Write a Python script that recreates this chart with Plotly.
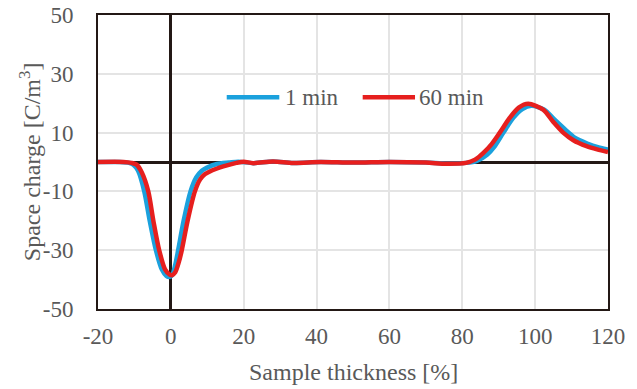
import plotly.graph_objects as go

# 1 min series
x_1min = [-20, -14, -11.5, -10.3, -9, -7.3, -5.8, -4.1, -2.5, -1.2, -0.7, 0.3, 1.2, 2.0, 3.5, 5.4, 7.0, 8.5, 9.8, 12.6, 16, 18.5, 22.6, 28, 33.6, 41, 50, 60, 70, 76, 81, 84, 86.8, 89, 91.3, 94, 96.5, 99, 102.5, 105.5, 108.3, 111, 114.5, 117, 120]
y_1min = [0, 0, -0.3, -0.9, -3, -10, -20, -30, -36.5, -38.8, -39.1, -38.6, -35, -30, -20, -10, -5.2, -3.0, -2.0, -0.7, -0.2, 0.1, -0.4, 0.2, -0.3, 0, -0.2, 0, -0.2, -0.5, -0.3, 0.4, 2.5, 5.5, 10, 15, 18, 19.1, 17.8, 14.2, 11, 8.2, 6.2, 5.1, 4.2]

# 60 min series
x_60min = [-20, -13, -10.8, -9.4, -8, -6.2, -4.8, -3.2, -1.6, -0.3, 0.3, 1.2, 2.2, 3.0, 4.6, 6.6, 8.0, 9.3, 10.7, 12.5, 14.4, 18, 20, 22.6, 28, 33.6, 41, 50, 60, 70, 75.7, 81, 83.5, 85.8, 88, 90.3, 93, 95.5, 98.1, 102.2, 105, 107.7, 110.5, 114.1, 117, 120]
y_60min = [0, 0, -0.3, -0.9, -3.5, -10, -20, -30, -36.5, -38.3, -38.5, -37.5, -34, -30, -20, -10, -6, -4.2, -3.2, -2.3, -1.5, -0.3, 0.1, -0.4, 0.2, -0.3, 0, -0.2, 0, -0.2, -0.6, -0.3, 0.8, 3.1, 6, 10, 15, 18.5, 19.8, 17.8, 13.6, 10, 7.4, 5.4, 4.3, 3.4]

x_ticks = [-20, 0, 20, 40, 60, 80, 100, 120]
x_tick_labels = ["-20", "0", "20", "40", "60", "80", "100", "120"]
y_ticks = [-50, -30, -10, 10, 30, 50]
y_tick_labels = ["-50", "-30", "-10", "10", "30", "50"]

series_names = ["1 min", "60 min"]
series_colors = ["#1BA1DD", "#E61F1E"]

font_family = "Liberation Serif"
text_color = "#595959"
axis_color = "#231815"

fig = go.Figure()
for name, xs, ys, col in [(series_names[0], x_1min, y_1min, series_colors[0]),
                          (series_names[1], x_60min, y_60min, series_colors[1])]:
    fig.add_trace(go.Scatter(x=xs, y=ys, mode="lines", name=name, showlegend=False,
                             line=dict(color=col, width=4.5, shape="spline", smoothing=0.8)))

# custom legend (long sample lines like the reference)
leg_items = [(0.2524, 0.3555, 0.3627), (0.519, 0.6216, 0.6255)]
for (x0, x1, xt), name, col in zip(leg_items, series_names, series_colors):
    fig.add_shape(type="line", xref="paper", yref="paper", x0=x0, x1=x1, y0=0.72, y1=0.72,
                  line=dict(color=col, width=4.5))
    fig.add_annotation(xref="paper", yref="paper", x=xt, y=0.72, xanchor="left", yanchor="middle",
                       text=name, showarrow=False, font=dict(size=23, color=text_color))

# axis titles
fig.add_annotation(xref="paper", yref="paper", x=0.5, y=-0.215, xanchor="center", yanchor="middle",
                   text="Sample thickness [%]", showarrow=False, font=dict(size=24, color=text_color))
fig.add_annotation(xref="paper", yref="paper", x=-0.133, y=0.5, xanchor="center", yanchor="middle",
                   text="Space charge [C/m<sup>3</sup>]", textangle=-90, showarrow=False,
                   font=dict(size=24, color=text_color))

fig.update_layout(
    width=637, height=389,
    margin=dict(l=98, r=29, t=15, b=80),
    paper_bgcolor="white", plot_bgcolor="white",
    font=dict(family=font_family, size=23, color=text_color),
    showlegend=False,
    xaxis=dict(range=[-20, 120], tickvals=x_ticks, ticktext=x_tick_labels, automargin=False,
               showgrid=True, gridcolor="#E4E4E4", gridwidth=2,
               zeroline=True, zerolinecolor=axis_color, zerolinewidth=3,
               showline=True, linecolor=axis_color, linewidth=2, mirror=True,
               ticks="", ticklabelstandoff=5, tickfont=dict(size=23, color=text_color)),
    yaxis=dict(range=[-50, 50], tickvals=y_ticks, ticktext=y_tick_labels, automargin=False,
               showgrid=True, gridcolor="#E4E4E4", gridwidth=2,
               zeroline=True, zerolinecolor=axis_color, zerolinewidth=3,
               showline=True, linecolor=axis_color, linewidth=2, mirror=True,
               ticks="", ticklabelstandoff=18, tickfont=dict(size=23, color=text_color)),
)

# remove the browser's default 8px body margin so the figure fills the window exactly
fig.write_html("out.html", config={"displayModeBar": False},
               post_script="document.body.style.margin='0';")
